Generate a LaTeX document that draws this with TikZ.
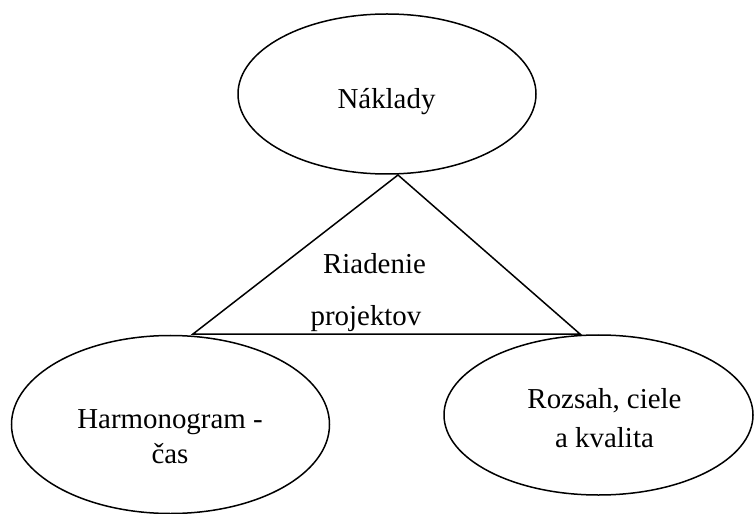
\documentclass[tikz,border=0pt]{standalone}
\usepackage{fontspec}
\setmainfont{Liberation Serif}
\usetikzlibrary{shapes.geometric}
\begin{document}
\begin{tikzpicture}[x=1bp,y=-1bp,
  oval/.style={draw,ellipse,line width=1.5bp,inner sep=0pt},
  word/.style={anchor=base,inner sep=0pt,font=\fontsize{29}{36}\selectfont},
  edge/.style={line width=1.5bp,line join=miter}]
  \useasboundingbox (0,0) rectangle (754,514);

  % three ellipses
  \node[oval,minimum width=298bp,minimum height=160bp] (cost) at (387,94) {};
  \node[oval,minimum width=318bp,minimum height=178bp] (time) at (170.5,424.5) {};
  \node[oval,minimum width=309bp,minimum height=160bp] (scope) at (598.5,415) {};

  % ellipse labels
  \node[word] (costlbl) at (386.5,109) {Náklady};
  \node[word] (timelbl1) at (170,428) {Harmonogram -};
  \node[word] (timelbl2) at (170,463) {čas};
  \node[word] (scopelbl1) at (604.5,408) {Rozsah, ciele};
  \node[word] (scopelbl2) at (604.5,447) {a kvalita};

  % triangle between the ellipses
  \coordinate (apex) at (398,175);
  \coordinate (baseL) at (193,334);
  \coordinate (baseR) at (580,334);
  \draw[edge] (apex) -- (baseL) -- (baseR) -- cycle;

  \node[word] (mgmt1) at (374.5,274) {Riadenie};
  \node[word] (mgmt2) at (366,325) {projektov};
\end{tikzpicture}
\end{document}
